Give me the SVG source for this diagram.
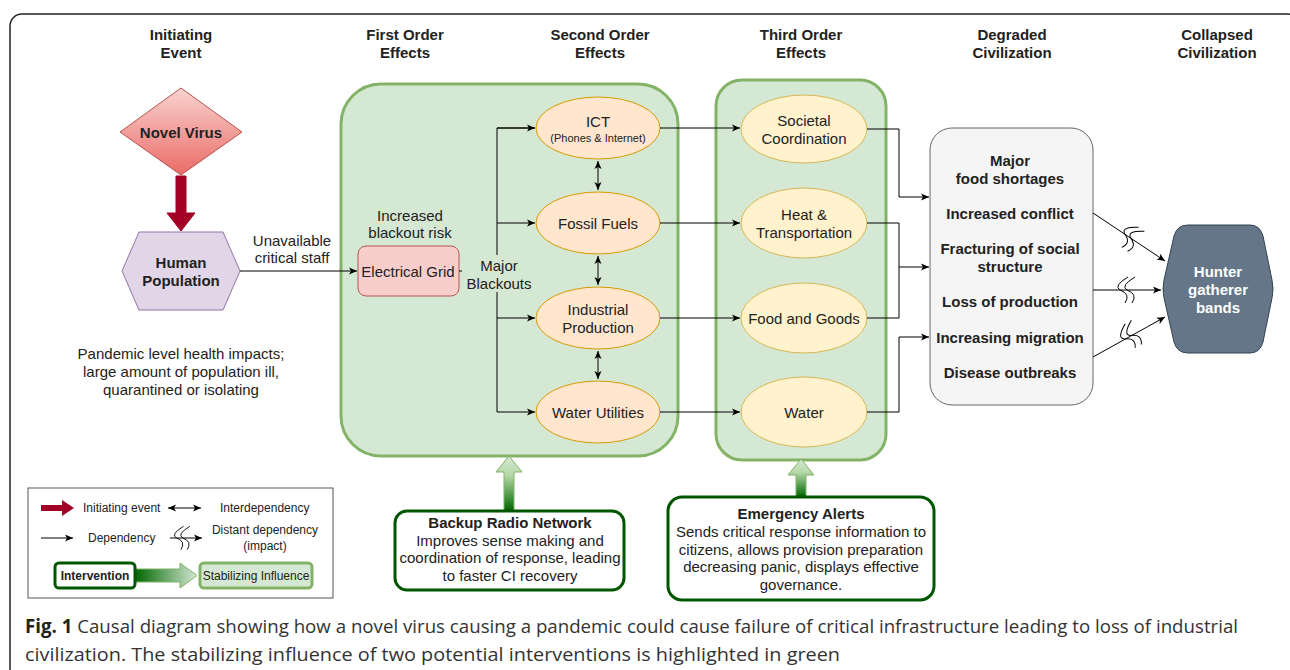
<svg xmlns="http://www.w3.org/2000/svg" width="1290" height="670" viewBox="0 0 1290 670">
<style>
text{font-family:"Liberation Sans",Arial,sans-serif;fill:#222;}
.h{font-size:15px;font-weight:bold;text-anchor:middle;}
.t{font-size:15px;text-anchor:middle;dominant-baseline:central;}
.b{font-size:15px;font-weight:bold;text-anchor:middle;dominant-baseline:central;}
.s{font-size:12px;dominant-baseline:central;}
.e{stroke:#000;stroke-width:1;fill:none;}
.ell2{fill:#ffe6cc;stroke:#d79b00;stroke-width:1;}
.ell3{fill:#fff2cc;stroke:#d6b656;stroke-width:1;}
.grp{fill:#d5e8d4;stroke:#82b366;stroke-width:3;}
.iv{fill:#fff;stroke:#005700;stroke-width:3;}
.cap{font-family:"Open Sans","Liberation Sans",sans-serif;font-size:19px;fill:#333;}
</style>
<defs>
<marker id="ar" markerUnits="userSpaceOnUse" markerWidth="10" markerHeight="10" viewBox="0 0 10 10" refX="9" refY="5" orient="auto">
<path d="M1,1.5 L9,5 L1,8.5 L3,5 Z" fill="#000"/>
</marker>
<marker id="as" markerUnits="userSpaceOnUse" markerWidth="10" markerHeight="10" viewBox="0 0 10 10" refX="1" refY="5" orient="auto">
<path d="M9,1.5 L1,5 L9,8.5 L7,5 Z" fill="#000"/>
</marker>
<linearGradient id="gv" x1="0" y1="0" x2="0" y2="1">
<stop offset="0" stop-color="#f9d3d0"/>
<stop offset="1" stop-color="#ea6b66"/>
</linearGradient>
<linearGradient id="gu" x1="0" y1="0" x2="0" y2="1">
<stop offset="0" stop-color="#d5e8d4"/>
<stop offset="0.35" stop-color="#b5d8a8"/>
<stop offset="1" stop-color="#006600"/>
</linearGradient>
<linearGradient id="gh" x1="0" y1="0" x2="1" y2="0">
<stop offset="0" stop-color="#006600"/>
<stop offset="1" stop-color="#d5e8d4"/>
</linearGradient>
<g id="zz" fill="none" stroke="#000" stroke-width="1">
<path d="M4,-13 Q-11,-4 -4,0 Q7,4 1,13"/>
<path d="M11,-13 Q-4,-4 3,0 Q14,4 8,13"/>
</g>
</defs>

<rect x="10" y="14" width="1290" height="700" rx="12" fill="#fff" stroke="#222" stroke-width="1.5"/>

<g id="headers">
<text class="h" x="181" y="40">Initiating</text><text class="h" x="181" y="58">Event</text>
<text class="h" x="405" y="40">First Order</text><text class="h" x="405" y="58">Effects</text>
<text class="h" x="600" y="40">Second Order</text><text class="h" x="600" y="58">Effects</text>
<text class="h" x="801" y="40">Third Order</text><text class="h" x="801" y="58">Effects</text>
<text class="h" x="1012" y="40">Degraded</text><text class="h" x="1012" y="58">Civilization</text>
<text class="h" x="1217" y="40">Collapsed</text><text class="h" x="1217" y="58">Civilization</text>
</g>

<g id="first-order-group"><rect class="grp" x="341" y="84" width="337" height="372" rx="40"/></g>
<g id="third-order-group"><rect class="grp" x="716" y="80" width="170" height="380" rx="26"/></g>

<g id="novel-virus">
<polygon points="181,88 242,132 181,175 120,132" fill="url(#gv)" stroke="#b85450"/>
<text class="b" x="181" y="132">Novel Virus</text>
</g>

<g id="human-population">
<polygon points="122,271 139,232 223,232 240,271 223,310 139,310" fill="#e1d5e7" stroke="#9673a6"/>
<text class="b" x="181" y="262">Human</text>
<text class="b" x="181" y="280">Population</text>
</g>

<g id="pandemic-note">
<text class="t" x="181" y="353">Pandemic level health impacts;</text>
<text class="t" x="181" y="371">large amount of population ill,</text>
<text class="t" x="181" y="389">quarantined or isolating</text>
</g>

<g id="electrical-grid">
<rect x="358" y="246" width="101" height="50" rx="8" fill="#f8cecc" stroke="#b85450"/>
<text class="t" x="408" y="271">Electrical Grid</text>
<text class="t" x="410" y="215">Increased</text>
<text class="t" x="410" y="232">blackout risk</text>
</g>

<g id="ict"><ellipse class="ell2" cx="598" cy="128" rx="62" ry="31"/>
<text class="t" x="598" y="121">ICT</text><text class="t" x="598" y="138" style="font-size:11px">(Phones &amp; Internet)</text></g>
<g id="fossil-fuels"><ellipse class="ell2" cx="598" cy="223" rx="62" ry="31"/>
<text class="t" x="598" y="223">Fossil Fuels</text></g>
<g id="industrial-production"><ellipse class="ell2" cx="598" cy="318" rx="62" ry="31"/>
<text class="t" x="598" y="309">Industrial</text><text class="t" x="598" y="327">Production</text></g>
<g id="water-utilities"><ellipse class="ell2" cx="598" cy="412" rx="62" ry="31"/>
<text class="t" x="598" y="412">Water Utilities</text></g>

<g id="societal-coordination"><ellipse class="ell3" cx="804" cy="129" rx="63" ry="34"/>
<text class="t" x="804" y="120">Societal</text><text class="t" x="804" y="138">Coordination</text></g>
<g id="heat-transportation"><ellipse class="ell3" cx="804" cy="223" rx="63" ry="35"/>
<text class="t" x="804" y="214">Heat &amp;</text><text class="t" x="804" y="232">Transportation</text></g>
<g id="food-goods"><ellipse class="ell3" cx="804" cy="318" rx="63" ry="35"/>
<text class="t" x="804" y="318">Food and Goods</text></g>
<g id="water"><ellipse class="ell3" cx="804" cy="412" rx="63" ry="35"/>
<text class="t" x="804" y="412">Water</text></g>

<g id="degraded-civilization">
<rect x="930" y="128" width="163" height="277" rx="22" fill="#f5f5f5" stroke="#666"/>
<text class="b" x="1010" y="160">Major</text>
<text class="b" x="1010" y="178">food shortages</text>
<text class="b" x="1010" y="213">Increased conflict</text>
<text class="b" x="1010" y="248">Fracturing of social</text>
<text class="b" x="1010" y="266">structure</text>
<text class="b" x="1010" y="301">Loss of production</text>
<text class="b" x="1010" y="337">Increasing migration</text>
<text class="b" x="1010" y="372">Disease outbreaks</text>
</g>

<g id="hunter-gatherer">
<path d="M1188,225 H1250 Q1260,225 1263,236 L1272,280 Q1274,289 1272,298 L1263,342 Q1260,353 1250,353 H1188 Q1177,353 1174,342 L1164,298 Q1162,289 1164,280 L1174,236 Q1177,225 1188,225 Z" fill="#647687" stroke="#314354"/>
<text class="b" x="1218" y="271" style="fill:#fff">Hunter</text>
<text class="b" x="1218" y="289" style="fill:#fff">gatherer</text>
<text class="b" x="1218" y="307" style="fill:#fff">bands</text>
</g>

<g id="connectors">
<path d="M176,176 H186 V213 H195 L181,231 L167,213 H176 Z" fill="#a20025" stroke="#a20025"/>
<path class="e" d="M240,271 H357" marker-end="url(#ar)"/>
<text class="t" x="292" y="240">Unavailable</text>
<text class="t" x="292" y="257">critical staff</text>
<path class="e" d="M459,271 H497"/>
<path class="e" d="M535,128 H497 V412 H535" marker-end="url(#ar)"/>
<path class="e" d="M497,128 H535" marker-end="url(#ar)"/>
<path class="e" d="M497,223 H535" marker-end="url(#ar)"/>
<path class="e" d="M497,318 H535" marker-end="url(#ar)"/>
<rect x="462" y="255" width="74" height="37" fill="#d5e8d4"/>
<text class="t" x="499" y="265">Major</text>
<text class="t" x="499" y="283">Blackouts</text>
<path class="e" d="M598,161 V190" marker-start="url(#as)" marker-end="url(#ar)"/>
<path class="e" d="M598,256 V285" marker-start="url(#as)" marker-end="url(#ar)"/>
<path class="e" d="M598,351 V379" marker-start="url(#as)" marker-end="url(#ar)"/>
<path class="e" d="M660,128 H740" marker-end="url(#ar)"/>
<path class="e" d="M660,223 H740" marker-end="url(#ar)"/>
<path class="e" d="M660,318 H740" marker-end="url(#ar)"/>
<path class="e" d="M660,412 H740" marker-end="url(#ar)"/>
<path class="e" d="M867,129 H899 V197 H929" marker-end="url(#ar)"/>
<path class="e" d="M867,223 H899 V267 H929" marker-end="url(#ar)"/>
<path class="e" d="M867,318 H899 V267"/>
<path class="e" d="M867,412 H899 V337 H929" marker-end="url(#ar)"/>
<path class="e" d="M1093,213 L1165,261" marker-end="url(#ar)"/>
<path class="e" d="M1093,290 L1161,290" marker-end="url(#ar)"/>
<path class="e" d="M1093,357 L1165,317" marker-end="url(#ar)"/>
<use href="#zz" transform="translate(1128,236) rotate(33.5)"/>
<use href="#zz" transform="translate(1124,290)"/>
<use href="#zz" transform="translate(1128,337) rotate(-29)"/>
<path d="M504,511 V472 H496 L509,456 L522,472 H514 V511 Z" fill="url(#gu)" stroke="#82b366"/>
<path d="M796,497 V475 H788 L801,459 L814,475 H806 V497 Z" fill="url(#gu)" stroke="#82b366"/>
</g>

<g id="backup-radio">
<rect class="iv" x="395" y="511" width="229" height="79" rx="12"/>
<text class="b" x="510" y="522">Backup Radio Network</text>
<text class="t" x="510" y="540">Improves sense making and</text>
<text class="t" x="510" y="557">coordination of response, leading</text>
<text class="t" x="510" y="575">to faster CI recovery</text>
</g>

<g id="emergency-alerts">
<rect class="iv" x="668" y="497" width="266" height="103" rx="14"/>
<text class="b" x="801" y="513">Emergency Alerts</text>
<text class="t" x="801" y="531">Sends critical response information to</text>
<text class="t" x="801" y="549">citizens, allows provision preparation</text>
<text class="t" x="801" y="566">decreasing panic, displays effective</text>
<text class="t" x="801" y="584">governance.</text>
</g>

<g id="legend">
<rect x="28" y="488" width="305" height="110" fill="#fff" stroke="#555"/>
<path d="M41,505 H62 V500 L74,508 L62,516 V511 H41 Z" fill="#a20025"/>
<text class="s" x="83" y="508">Initiating event</text>
<path class="e" d="M168,508 H201" marker-start="url(#as)" marker-end="url(#ar)"/>
<text class="s" x="220" y="508">Interdependency</text>
<path class="e" d="M41,538 H73" marker-end="url(#ar)"/>
<text class="s" x="88" y="538">Dependency</text>
<path class="e" d="M170,538 H202" marker-end="url(#ar)"/>
<use href="#zz" transform="translate(180,538) scale(0.9)"/>
<text class="s" x="265" y="530" text-anchor="middle">Distant dependency</text>
<text class="s" x="265" y="546" text-anchor="middle">(impact)</text>
<path d="M135,569 H180 V563 L197,575.5 L180,588 V582 H135 Z" fill="url(#gh)" stroke="#82b366"/>
<rect x="55" y="563" width="80" height="25" rx="4" fill="#fff" stroke="#005700" stroke-width="3"/>
<text class="s" x="95" y="576" text-anchor="middle" font-weight="bold">Intervention</text>
<rect x="200" y="563" width="112" height="25" rx="4" fill="#d5e8d4" stroke="#82b366" stroke-width="3"/>
<text class="s" x="256" y="576" text-anchor="middle">Stabilizing Influence</text>
</g>

<g id="caption">
<text class="cap" x="25" y="633" textLength="1213" lengthAdjust="spacingAndGlyphs"><tspan font-weight="bold" fill="#222">Fig. 1</tspan> Causal diagram showing how a novel virus causing a pandemic could cause failure of critical infrastructure leading to loss of industrial</text>
<text class="cap" x="25" y="661" textLength="815" lengthAdjust="spacingAndGlyphs">civilization. The stabilizing influence of two potential interventions is highlighted in green</text>
</g>
</svg>
